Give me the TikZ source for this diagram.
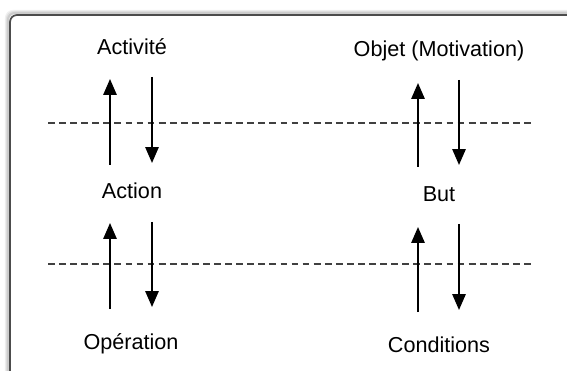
\documentclass[tikz,border=0pt]{standalone}
\usepackage{fontspec}
\setmainfont{Liberation Sans}
\usetikzlibrary{arrows.meta}

\begin{document}
\begin{tikzpicture}[x=0.2mm, y=0.2mm]
			\tikzstyle{every node}=[font=\fontsize{12.3}{14}\selectfont, anchor=base, inner sep=0pt]
			\tikzstyle{pfeil}=[line width=1.1pt, -{Triangle[length=9pt, width=7.5pt]}]
			\tikzstyle{grenze}=[line width=0.95pt, black!75, dash pattern=on 3.9pt off 2.4pt]
			\tikzstyle{rahmen}=[line width=1.2pt, rounded corners=4pt]
			
			\clip (0,0) rectangle (567,370);
			\useasboundingbox (0,0) rectangle (567,370);
			
			%Rahmen mit Schatten
			\draw[rahmen, black!6] (6,-20) -- (6,359) -- (600,359);
			\draw[rahmen, black!12] (7,-20) -- (7,358) -- (600,358);
			\draw[rahmen, black!20] (8,-20) -- (8,357) -- (600,357);
			\draw[rahmen, black!70, line width=1pt] (10,-20) -- (10,355) -- (600,355);
			
			%Beschriftungen (Grundlinie)
			\node (akt) at (132,315) {Activité};
			\node (obj) at (439,313) {Objet (Motivation)};
			\node (act) at (132,172) {Action};
			\node (but) at (439,168) {But};
			\node (op) at (131,21) {Opération};
			\node (cond) at (439,18) {Conditions};
			
			%Pfeilenden
			\coordinate (a1) at (110,205); \coordinate (a2) at (110,291);
			\coordinate (b1) at (152,293); \coordinate (b2) at (152,207);
			\coordinate (c1) at (110,61);  \coordinate (c2) at (110,147);
			\coordinate (d1) at (152,148); \coordinate (d2) at (152,63);
			\coordinate (e1) at (418,203); \coordinate (e2) at (418,287);
			\coordinate (f1) at (459,290); \coordinate (f2) at (459,205);
			\coordinate (g1) at (418,58);  \coordinate (g2) at (418,143);
			\coordinate (h1) at (459,146); \coordinate (h2) at (459,60);
			
			%Ebenengrenzen
			\coordinate (o1) at (48,247); \coordinate (o2) at (534,247);
			\coordinate (u1) at (48,106); \coordinate (u2) at (534,106);
			\draw[grenze] (o1) -- (o2);
			\draw[grenze] (u1) -- (u2);
			
			\draw[pfeil] (a1) -- (a2);
			\draw[pfeil] (b1) -- (b2);
			\draw[pfeil] (c1) -- (c2);
			\draw[pfeil] (d1) -- (d2);
			\draw[pfeil] (e1) -- (e2);
			\draw[pfeil] (f1) -- (f2);
			\draw[pfeil] (g1) -- (g2);
			\draw[pfeil] (h1) -- (h2);
		\end{tikzpicture}
\end{document}
